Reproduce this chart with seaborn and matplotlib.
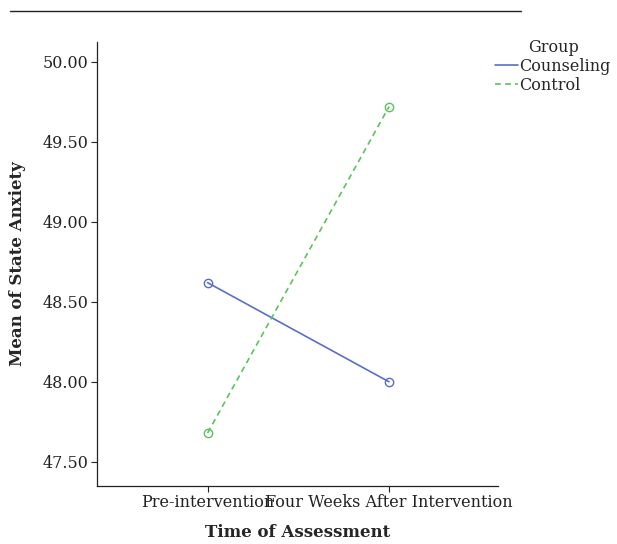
import numpy as np
import pandas as pd
import matplotlib
matplotlib.use('Agg')
import matplotlib.pyplot as plt
import seaborn as sns

times = ['Pre-intervention', 'Four Weeks After Intervention']
groups = ['Counseling', 'Control']
counseling = [48.62, 48.00]
control = [47.68, 49.72]
yticks = [47.50, 48.00, 48.50, 49.00, 49.50, 50.00]

df = pd.DataFrame({
    'Time': times * 2,
    'x': [0, 1] * 2,
    'Mean': counseling + control,
    'Group': [groups[0]] * 2 + [groups[1]] * 2,
})

sns.set_style('ticks')
plt.rcParams['font.family'] = ['DejaVu Serif']

fig = plt.figure(figsize=(6.17, 5.44), dpi=100)
ax = fig.add_axes([0.157, 0.107, 0.650, 0.816])

palette = {'Counseling': '#5a6ec4', 'Control': '#5cc35c'}
sns.lineplot(data=df, x='x', y='Mean', hue='Group', style='Group',
             palette=palette, dashes={'Counseling': '', 'Control': (3.5, 2.5)},
             marker='o', ax=ax, legend=False, linewidth=1.2)
for ln in ax.lines:
    ln.set_markerfacecolor('none')
    ln.set_markeredgecolor(ln.get_color())
    ln.set_markersize(6)
    ln.set_markeredgewidth(1)

ax.set_xlim(-0.61, 1.60)
ax.set_ylim(47.35, 50.125)
ax.set_xticks([0, 1])
ax.set_xticklabels(times, fontsize=11.5)
ax.set_yticks(yticks)
ax.set_yticklabels(['%.2f' % v for v in yticks], fontsize=11.5)
ax.tick_params(length=4, width=0.8, colors='#222222', pad=2)
ax.set_xlabel('Time of Assessment', fontsize=12, fontweight='bold', labelpad=9)
ax.set_ylabel('Mean of State Anxiety', fontsize=12, fontweight='bold', labelpad=12)
sns.despine(ax=ax)
for s in ['left', 'bottom']:
    ax.spines[s].set_linewidth(0.9)
    ax.spines[s].set_color('#222222')

handles = ax.lines[:2]
leg = fig.legend(handles, groups, title='Group', loc='upper left',
                 bbox_to_anchor=(0.803, 0.928), frameon=False, fontsize=11.5,
                 title_fontsize=11.5, handlelength=1.4, handletextpad=0.1,
                 labelspacing=0.12, borderpad=0, borderaxespad=0)
for h in leg.legend_handles:
    h.set_marker('')

fig.add_artist(plt.Line2D([0.016, 0.845], [0.98, 0.98], color='#222222', lw=1))

fig.savefig('out.png', dpi=100)
